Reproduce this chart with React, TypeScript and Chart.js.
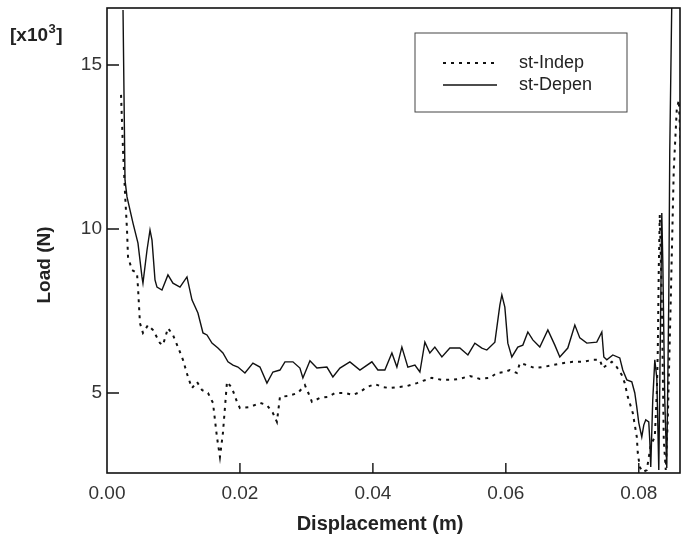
import React, { useEffect, useRef } from "react";
import { Chart, registerables } from "chart.js";
Chart.register(...registerables);

const xTickValues = [0, 0.02, 0.04, 0.06, 0.08];
const yTickValues = [5, 10, 15];
const seriesNames = ["st-Indep", "st-Depen"];
const yUnitBase = "[x10";
const yUnitExp = "3";
const yUnitEnd = "]";
const xTitle = "Displacement (m)";
const yTitle = "Load (N)";

const indepX = [
  0.00211, 0.00241, 0.00271, 0.00301, 0.00316, 0.00376, 0.00451, 0.00466, 0.00496, 0.00541,
  0.00617, 0.00692, 0.00797, 0.00842, 0.00917, 0.00992, 0.01068, 0.01143, 0.01218, 0.01278,
  0.01353, 0.01429, 0.01519, 0.01594, 0.01654, 0.01699, 0.01744, 0.01805, 0.0188, 0.01955,
  0.02, 0.0215, 0.02301, 0.02406, 0.02496, 0.02556, 0.02602, 0.02722, 0.02872, 0.02977,
  0.03023, 0.03083, 0.03203, 0.03323, 0.03429, 0.03579, 0.03699, 0.03805, 0.0391, 0.0403,
  0.0415, 0.04256, 0.04376, 0.04511, 0.04662, 0.04752, 0.04887, 0.05038, 0.05158, 0.05308,
  0.05459, 0.05609, 0.05759, 0.05865, 0.05985, 0.0606, 0.06165, 0.06211, 0.06316, 0.06436,
  0.06556, 0.06707, 0.06857, 0.07008, 0.07158, 0.07308, 0.07414, 0.07459, 0.07519, 0.07594,
  0.07669, 0.07744, 0.07789, 0.07835, 0.0791, 0.0797, 0.07985, 0.08015, 0.0806, 0.0812,
  0.0818, 0.08241, 0.08271, 0.08286, 0.08301, 0.08316, 0.08346, 0.08376, 0.08406, 0.08436,
  0.08481, 0.08526, 0.08571, 0.08602, 0.08632,
];
const indepY = [
  14.09, 12.41, 11.1, 9.97, 9.15, 8.75, 8.66, 8.23, 7.13, 6.83,
  7.07, 6.92, 6.52, 6.46, 6.98, 6.77, 6.4, 6.01, 5.49, 5.15,
  5.34, 5.09, 5.0, 4.7, 3.66, 3.05, 3.78, 5.34, 5.15, 4.73,
  4.54, 4.57, 4.7, 4.63, 4.39, 4.12, 4.88, 4.91, 5.0, 5.24,
  5.03, 4.73, 4.85, 4.88, 5.0, 5.0, 4.94, 5.03, 5.18, 5.27,
  5.18, 5.15, 5.18, 5.21, 5.3, 5.37, 5.46, 5.4, 5.4, 5.43,
  5.52, 5.43, 5.46, 5.61, 5.64, 5.7, 5.61, 5.91, 5.85, 5.76,
  5.79, 5.85, 5.91, 5.95, 5.95, 6.01, 6.01, 5.76, 5.85, 5.95,
  5.79, 5.55, 5.3, 4.88, 4.39, 3.66, 3.17, 2.74, 2.59, 2.65,
  3.41, 3.66, 5.0, 6.31, 8.84, 10.43, 7.84, 3.57, 2.65, 4.18,
  7.84, 11.8, 13.63, 13.93, 12.41,
];

const depenX = [
  0.00241, 0.00271, 0.00301, 0.00391, 0.00466, 0.00526, 0.00541, 0.00602, 0.00647, 0.00677,
  0.00722, 0.00752, 0.00827, 0.00917, 0.00992, 0.01098, 0.01203, 0.01278, 0.01368, 0.01444,
  0.01504, 0.01579, 0.01669, 0.01744, 0.0182, 0.01895, 0.0197, 0.02075, 0.02195, 0.02301,
  0.02406, 0.02496, 0.02602, 0.02677, 0.02797, 0.02902, 0.02947, 0.03053, 0.03158, 0.03308,
  0.03398, 0.03504, 0.03654, 0.03805, 0.03985, 0.04075, 0.0418, 0.04286, 0.04361, 0.04436,
  0.04526, 0.04632, 0.04707, 0.04782, 0.04857, 0.04932, 0.05038, 0.05158, 0.05308, 0.05429,
  0.05534, 0.05639, 0.05714, 0.05835, 0.0591, 0.0594, 0.05985, 0.0603, 0.0609, 0.0618,
  0.06256, 0.06331, 0.06406, 0.06511, 0.06632, 0.06737, 0.06812, 0.06932, 0.07038, 0.07113,
  0.07218, 0.07368, 0.07444, 0.07474, 0.07519, 0.07609, 0.07714, 0.07759, 0.0782, 0.07895,
  0.0794, 0.0797, 0.08, 0.08045, 0.08075, 0.08105, 0.0815, 0.08165, 0.0818, 0.0821,
  0.08241, 0.08271, 0.08301, 0.08331, 0.08346, 0.08361, 0.08391, 0.08421, 0.08451, 0.08466,
  0.08496,
];
const depenY = [
  16.68, 11.49, 10.98, 10.18, 9.57, 8.54, 8.35, 9.36, 9.97, 9.66,
  8.45, 8.23, 8.14, 8.6, 8.35, 8.23, 8.54, 7.84, 7.44, 6.83,
  6.77, 6.52, 6.37, 6.22, 5.95, 5.85, 5.79, 5.61, 5.91, 5.79,
  5.3, 5.64, 5.7, 5.95, 5.95, 5.76, 5.46, 5.98, 5.76, 5.79,
  5.49, 5.76, 5.95, 5.7, 5.95, 5.7, 5.7, 6.22, 5.79, 6.4,
  5.79, 5.85, 5.64, 6.55, 6.22, 6.4, 6.1, 6.37, 6.37, 6.16,
  6.52, 6.37, 6.31, 6.55, 7.68, 7.99, 7.62, 6.52, 6.1, 6.4,
  6.46, 6.86, 6.62, 6.4, 6.92, 6.46, 6.1, 6.37, 7.07, 6.68,
  6.52, 6.55, 6.86, 6.1, 6.01, 6.16, 6.07, 5.7, 5.4, 5.34,
  5.0, 4.57, 4.09, 3.66, 4.02, 4.18, 4.12, 3.57, 2.74, 4.79,
  6.01, 5.46, 2.65, 7.84, 10.49, 9.05, 4.79, 2.71, 7.84, 12.41,
  16.83,
];

const X_MIN = 0;
const X_MAX = 0.0862;
const Y_MIN = 2.56;
const Y_MAX = 16.74;

const FONT = "'Liberation Sans', Arial, sans-serif";
const DOT_DASH = [3, 5];

const decorPlugin = {
  id: "decor",
  afterDatasetsDraw(chart: any) {
    const { ctx, chartArea, scales } = chart;
    const { left, right, top, bottom } = chartArea;
    ctx.save();
    // frame
    ctx.strokeStyle = "#111";
    ctx.lineWidth = 1.6;
    ctx.strokeRect(left, top, right - left, bottom - top);
    // inward ticks
    ctx.lineWidth = 1.4;
    ctx.beginPath();
    xTickValues.forEach((v) => {
      if (v <= X_MIN) return;
      const px = scales.x.getPixelForValue(v);
      ctx.moveTo(px, bottom);
      ctx.lineTo(px, bottom - 10);
    });
    yTickValues.forEach((v) => {
      const py = scales.y.getPixelForValue(v);
      ctx.moveTo(left, py);
      ctx.lineTo(left + 12, py);
    });
    ctx.stroke();

    // unit label with superscript
    ctx.fillStyle = "#222";
    ctx.textAlign = "left";
    ctx.textBaseline = "alphabetic";
    ctx.font = `bold 19px ${FONT}`;
    let ux = 10;
    ctx.fillText(yUnitBase, ux, 41);
    ux += ctx.measureText(yUnitBase).width;
    ctx.font = `bold 13px ${FONT}`;
    ctx.fillText(yUnitExp, ux + 0.5, 33);
    ux += ctx.measureText(yUnitExp).width + 1;
    ctx.font = `bold 19px ${FONT}`;
    ctx.fillText(yUnitEnd, ux, 41);

    // axis titles
    ctx.font = `bold 20px ${FONT}`;
    ctx.textAlign = "center";
    ctx.textBaseline = "middle";
    ctx.fillText(xTitle, 380, 524);
    ctx.save();
    ctx.translate(45, 265);
    ctx.rotate(-Math.PI / 2);
    ctx.font = `bold 19px ${FONT}`;
    ctx.fillText(yTitle, 0, 0);
    ctx.restore();

    // legend
    const lx = 415, ly = 33, lw = 212, lh = 79;
    ctx.fillStyle = "#fff";
    ctx.fillRect(lx, ly, lw, lh);
    ctx.strokeStyle = "#444";
    ctx.lineWidth = 1;
    ctx.strokeRect(lx, ly, lw, lh);
    const rows = [63, 85];
    chart.data.datasets.forEach((ds: any, i: number) => {
      ctx.save();
      ctx.strokeStyle = ds.borderColor;
      ctx.lineWidth = ds.borderWidth;
      ctx.setLineDash(ds.borderDash || []);
      ctx.beginPath();
      ctx.moveTo(443, rows[i]);
      ctx.lineTo(497, rows[i]);
      ctx.stroke();
      ctx.restore();
      ctx.fillStyle = "#222";
      ctx.font = `18px ${FONT}`;
      ctx.textAlign = "left";
      ctx.textBaseline = "middle";
      ctx.fillText(ds.label, 519, rows[i]);
    });
    ctx.restore();
  },
};

export default function App() {
  const ref = useRef<HTMLCanvasElement>(null);
  useEffect(() => {
    document.body.style.margin = "0";
    const indep = indepX.map((x, i) => ({ x, y: indepY[i] }));
    const depen = depenX.map((x, i) => ({ x, y: depenY[i] }));
    const chart = new Chart(ref.current as HTMLCanvasElement, {
      type: "line",
      data: {
        datasets: [
          {
            label: seriesNames[0],
            data: indep,
            borderColor: "#111",
            borderWidth: 2,
            borderDash: DOT_DASH,
            pointRadius: 0,
            tension: 0,
            fill: false,
          },
          {
            label: seriesNames[1],
            data: depen,
            borderColor: "#111",
            borderWidth: 1.4,
            pointRadius: 0,
            tension: 0,
            fill: false,
          },
        ],
      },
      plugins: [decorPlugin],
      options: {
        animation: false,
        responsive: false,
        devicePixelRatio: 1,
        parsing: false,
        layout: { padding: { left: 0, top: 8, right: 2, bottom: 0 } },
        plugins: {
          legend: { display: false },
          tooltip: { enabled: false },
        },
        scales: {
          x: {
            type: "linear",
            min: X_MIN,
            max: X_MAX,
            grid: { display: false, drawTicks: false },
            border: { display: false },
            afterFit: (s: any) => {
              s.height = 69;
              s.paddingLeft = 0;
              s.paddingRight = 0;
            },
            ticks: {
              stepSize: 0.02,
              includeBounds: false,
              autoSkip: false,
              maxRotation: 0,
              padding: 9,
              color: "#333",
              font: { family: FONT, size: 19 },
              callback: (v: any) => Number(v).toFixed(2),
            },
          },
          y: {
            type: "linear",
            min: Y_MIN,
            max: Y_MAX,
            grid: { display: false, drawTicks: false },
            border: { display: false },
            afterFit: (s: any) => {
              s.width = 107;
              s.paddingTop = 0;
              s.paddingBottom = 0;
            },
            ticks: {
              stepSize: 5,
              includeBounds: false,
              padding: 5,
              color: "#333",
              font: { family: FONT, size: 19 },
              callback: (v: any) => String(v),
            },
          },
        },
      },
    } as any);
    return () => chart.destroy();
  }, []);
  return <canvas ref={ref} width={682} height={542} style={{ display: "block" }} />;
}
